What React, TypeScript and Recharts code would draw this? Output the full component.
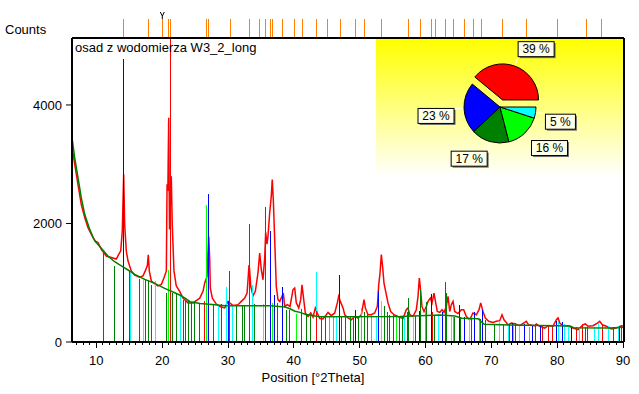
import React from 'react';
import { ComposedChart, Line, Scatter, ErrorBar, XAxis, YAxis, PieChart, Pie, Cell } from 'recharts';

const FONT = '"Liberation Sans", Arial, Helvetica, sans-serif';

const X_MIN = 6.3;
const X_MAX = 90.15;
const Y_MAX = 5130;

// measured scan [°2Theta, counts]
const measured: [number, number][] = [
  [6.3, 3300], [6.71, 3000], [7.21, 2660], [7.71, 2320], [8.23, 2100], [8.73, 1930], [9.49, 1760], [9.87, 1700],
  [10.25, 1680], [10.75, 1565], [11.51, 1450], [12.27, 1425], [13.03, 1400], [13.36, 1470], [13.7, 1540], [13.94, 1870],
  [14.15, 2830], [14.3, 1985], [14.55, 1535], [14.81, 1365], [15.31, 1200], [15.82, 1130], [16.58, 1095], [17.09, 1115],
  [17.43, 1200], [17.74, 1285], [17.89, 1470], [18.04, 1200], [18.35, 1030], [18.86, 985], [19.36, 945], [19.87, 970],
  [20.28, 1085], [20.63, 1200], [20.74, 2660], [20.86, 2550], [20.99, 3785], [21.11, 1900], [21.38, 2795], [21.53, 1985],
  [21.79, 1200], [22.14, 945], [22.66, 855], [23.16, 740], [23.92, 660], [24.68, 660], [25.18, 700], [25.7, 740],
  [26.2, 855], [26.46, 995], [26.81, 1105], [27.07, 1780], [27.22, 1390], [27.31, 910], [27.62, 740], [28.22, 640],
  [28.74, 600], [29.5, 575], [30.0, 685], [30.26, 660], [30.76, 615], [31.52, 630], [32.02, 685], [32.54, 740],
  [32.89, 825], [33.04, 1050], [33.19, 1300], [33.29, 1200], [33.45, 940], [33.8, 780], [34.15, 855], [34.55, 1165],
  [34.81, 1500], [35.06, 1220], [35.31, 1050], [35.57, 1420], [35.72, 1850], [35.92, 1650], [36.07, 1780], [36.33, 2180],
  [36.57, 2460], [36.72, 2740], [36.88, 2400], [37.09, 1730], [37.33, 940], [37.59, 715], [37.85, 685], [38.2, 770],
  [38.4, 825], [38.61, 600], [39.01, 630], [39.42, 600], [39.87, 885], [40.13, 910], [40.37, 660], [40.74, 575],
  [41.04, 715], [41.24, 965], [41.44, 770], [41.74, 490], [42.15, 430], [42.56, 490], [42.91, 420], [43.26, 575],
  [43.56, 490], [43.93, 395], [44.43, 390], [44.93, 460], [45.19, 500], [45.69, 445], [46.21, 490], [46.6, 660],
  [46.81, 770], [47.06, 685], [47.47, 575], [47.73, 460], [48.23, 405], [48.73, 375], [49.24, 430], [49.75, 405],
  [50.25, 460], [50.66, 715], [50.86, 575], [51.26, 460], [51.77, 460], [52.28, 490], [52.68, 600], [52.89, 965],
  [53.09, 1165], [53.29, 1475], [53.5, 1250], [53.69, 995], [54.0, 825], [54.3, 660], [54.71, 515], [55.21, 460],
  [55.82, 430], [56.58, 395], [57.08, 545], [57.34, 575], [57.6, 460], [58.1, 430], [58.6, 545], [58.86, 770],
  [59.06, 1080], [59.27, 855], [59.46, 600], [59.77, 515], [60.12, 600], [60.38, 685], [60.73, 740], [60.99, 660],
  [61.29, 825], [61.55, 660], [61.79, 515], [62.16, 500], [62.51, 545], [62.81, 500], [63.16, 600], [63.42, 770],
  [63.68, 515], [63.92, 630], [64.18, 685], [64.43, 515], [64.94, 480], [65.44, 545], [65.8, 545], [66.2, 430],
  [66.71, 375], [67.21, 490], [67.72, 460], [68.13, 545], [68.38, 660], [68.73, 515], [69.08, 405], [69.6, 350],
  [70.25, 330], [70.75, 350], [71.27, 360], [71.62, 460], [71.92, 375], [72.27, 330], [72.53, 290], [73.03, 320],
  [73.55, 310], [74.31, 275], [75.07, 330], [75.31, 350], [75.67, 290], [76.59, 275], [76.83, 305], [77.35, 265],
  [78.11, 235], [78.61, 275], [79.37, 265], [79.87, 375], [80.13, 405], [80.39, 320], [80.89, 275], [81.65, 275],
  [82.41, 235], [83.17, 210], [83.92, 290], [84.27, 305], [84.68, 265], [85.44, 275], [86.1, 320], [86.46, 350],
  [86.86, 290], [87.46, 265], [88.22, 220], [88.98, 235], [89.74, 275], [90.15, 265],
];

// fitted background
const background: [number, number][] = [
  [6.3, 3448], [6.71, 3110], [7.21, 2773], [7.71, 2435], [8.23, 2154], [8.99, 1900], [9.75, 1705], [10.75, 1580],
  [11.76, 1451], [12.78, 1355], [13.79, 1283], [14.81, 1215], [15.82, 1141], [17.34, 1057], [18.86, 989], [20.38, 905],
  [21.9, 832], [22.66, 793], [23.47, 740], [24.23, 680], [25.75, 650], [28.03, 630], [29.54, 613], [36.38, 613],
  [38.66, 590], [39.42, 560], [40.17, 520], [40.94, 500], [41.7, 470], [43.22, 440], [43.98, 425], [56.12, 430],
  [59.17, 445], [62.2, 456], [64.48, 440], [65.5, 400], [68.0, 393], [68.9, 300], [72.84, 285], [81.95, 270],
  [82.5, 240], [88.0, 236], [90.15, 250],
];

// reference patterns [°2Theta, height]
const sticksRed: [number, number][] = [
  [17.54, 1050], [21.23, 5130], [23.51, 715], [26.43, 700], [33.23, 1990], [37.44, 650], [41.13, 550], [43.37, 520],
  [54.15, 500], [61.03, 500], [73.64, 320], [76.68, 300], [77.7, 280], [78.61, 275], [79.26, 275], [82.91, 250],
  [83.92, 300], [84.68, 260], [86.81, 290], [88.48, 250], [89.74, 270],
];
const sticksBlue: [number, number][] = [
  [14.12, 4770], [27.11, 2500], [30.04, 685], [36.42, 1880], [37.03, 800], [38.25, 930], [46.89, 1135], [49.34, 545],
  [52.91, 855], [59.16, 530], [60.86, 815], [62.51, 500], [65.09, 630], [65.95, 430], [67.47, 500], [68.63, 545],
  [73.14, 320], [75.07, 305], [76.18, 280], [77.44, 280], [79.87, 350], [80.78, 330], [82.15, 260], [89.5, 270],
];
const sticksDarkGreen: [number, number][] = [
  [11.05, 1500], [12.73, 1280], [14.05, 1300], [15.0, 1200], [16.55, 1070], [17.95, 1040], [18.41, 970], [20.69, 830],
  [21.54, 830], [22.2, 830], [22.71, 800], [23.21, 715], [23.97, 700], [24.48, 680], [24.98, 650], [25.74, 640],
  [27.8, 640], [29.04, 640], [30.2, 1205], [31.26, 615], [32.17, 620], [32.43, 620], [33.99, 645], [35.66, 2270],
  [38.91, 545], [39.34, 545], [41.19, 490], [41.89, 460], [42.56, 460], [43.44, 685], [44.17, 430], [44.78, 430],
  [47.24, 440], [47.82, 440], [48.53, 430], [48.99, 430], [49.75, 440], [50.76, 500], [51.26, 480], [53.77, 600],
  [54.56, 460], [55.11, 460], [56.08, 430], [56.43, 430], [57.23, 500], [57.45, 750], [58.51, 440], [59.27, 900],
  [60.18, 680], [61.4, 450], [63.04, 1005], [63.26, 830], [64.43, 420], [65.24, 430], [67.06, 400], [68.38, 380],
  [69.08, 370], [70.51, 300], [71.92, 290], [72.79, 290], [84.33, 260],
];
const sticksGreen: [number, number][] = [
  [20.93, 1220], [26.66, 2315], [36.73, 650], [40.43, 470], [45.45, 440], [45.95, 440], [50.35, 570], [51.87, 450],
  [55.56, 440], [60.03, 560], [64.18, 420], [68.13, 400], [75.83, 260],
];
const sticksCyan: [number, number][] = [
  [15.22, 1170], [17.16, 1040], [18.91, 1025], [22.81, 770], [28.52, 620], [29.8, 920], [30.68, 615], [33.67, 965],
  [35.36, 640], [43.4, 1175], [46.45, 420], [52.56, 440], [53.32, 685], [56.84, 430], [58.25, 440], [61.9, 450],
  [63.92, 450], [66.61, 400], [71.27, 350], [72.53, 290], [73.4, 310], [74.31, 275], [80.23, 330], [81.04, 300],
  [81.75, 275], [83.42, 250], [85.7, 250], [86.31, 320], [87.72, 270], [89.24, 275],
];

// peak list marks above the plot
const refMarks = [
  14.15, 17.89, 20.02, 20.99, 21.29, 26.76, 27.11, 30.41, 33.29, 34.75, 35.72, 36.48, 36.79, 38.31, 40.07, 41.28,
  43.37, 45.08, 47.12, 49.34, 50.7, 53.28, 57.39, 59.21, 60.88, 61.49, 63.01, 64.22, 65.89, 67.26, 68.47, 71.67,
  75.37, 80.02, 84.42, 86.7,
];
const cursorMark = 20.02;

const xLabels = [10, 20, 30, 40, 50, 60, 70, 80, 90];
const yLabels = [0, 2000, 4000];

// phase quantification (pie)
const phaseShares = [39, 23, 17, 16, 5];
const phaseColors = ['#ff0000', '#0000ff', '#008000', '#00ff00', '#00ffff'];

const minorTicks = Array.from({ length: 84 }, (_, i) => i + 7);

const profileData = measured.map(([x, c]) => ({ x, c }));
const bgData = background.map(([x, b]) => ({ x, b }));
const toSticks = (pts: [number, number][]) => pts.map(([x, h]) => ({ x, h, span: [h, 0] }));

const stickSeries = [
  { key: 'dkgreen', color: '#008000', pts: sticksDarkGreen },
  { key: 'cyan', color: '#00ffff', pts: sticksCyan },
  { key: 'green', color: '#00ff00', pts: sticksGreen },
  { key: 'blue', color: '#0000ff', pts: sticksBlue },
  { key: 'red', color: '#ff0000', pts: sticksRed },
];

const BottomTick = (props: any) => {
  const { x, y, payload } = props;
  const major = xLabels.includes(payload.value);
  return (
    <g>
      <line x1={x} x2={x} y1={y} y2={y + (major ? 6 : 3)} stroke="#000" strokeWidth={1} shapeRendering="crispEdges" />
      {major && (
        <text x={x} y={y + 23} textAnchor="middle" fontSize={13} fontFamily={FONT} fill="#000">
          {payload.value}
        </text>
      )}
    </g>
  );
};

const RefTick = (props: any) => {
  const { x, y, payload } = props;
  return (
    <g>
      <line x1={x} x2={x} y1={y - 1} y2={y - 19} stroke="#ff8000" strokeWidth={1} shapeRendering="crispEdges" />
      {payload.value === cursorMark && (
        <path
          d={`M${x - 2},${y - 26} L${x},${y - 22} L${x + 2},${y - 26} M${x},${y - 22} V${y - 19}`}
          stroke="#000"
          fill="none"
        />
      )}
    </g>
  );
};

const noMarker = () => <g />;

// pie inset
const RAD = Math.PI / 180;
const EXPLODE = 7.5;
const PIE_CX = 124;
const PIE_CY = 68;
const PIE_R = 36;
const pieData = phaseShares.map((share, i) => ({ name: `phase${i + 1}`, share, color: phaseColors[i] }));
const shareTotal = phaseShares.reduce((a, b) => a + b, 0);
const explodedMid = (phaseShares[0] / shareTotal) * 180;
const exDx = EXPLODE * Math.cos(explodedMid * RAD);
const exDy = -EXPLODE * Math.sin(explodedMid * RAD);

const renderPieLabel = (p: any) => {
  const { cx, cy, midAngle, outerRadius, index, value } = p;
  const c = Math.cos(midAngle * RAD);
  const s = Math.sin(midAngle * RAD);
  const ox = cx + (index === 0 ? exDx : 0);
  const oy = cy + (index === 0 ? exDy : 0);
  const ax = ox + (outerRadius + 10) * c;
  const ay = oy - (outerRadius + 10) * s;
  const text = `${value} %`;
  const w = text.length * 6 + 12;
  const h = 15;
  const bx = c >= 0 ? ax : ax - w;
  const by = s > 0 ? ay - h : ay;
  return (
    <g>
      <line
        x1={ox + (outerRadius + 1) * c}
        y1={oy - (outerRadius + 1) * s}
        x2={ax}
        y2={ay}
        stroke="#ffffff"
        strokeWidth={1}
      />
      <rect x={bx + 1.5} y={by + 1.5} width={w} height={h} fill="#707070" />
      <rect x={bx} y={by} width={w} height={h} fill="#ffffe6" stroke="#000" strokeWidth={1} />
      <text x={bx + w / 2} y={by + 11.5} textAnchor="middle" fontSize={12} fontFamily={FONT} fill="#000">
        {text}
      </text>
    </g>
  );
};

export default function App() {
  return (
    <div style={{ position: 'fixed', left: 0, top: 0, width: 639, height: 394, background: '#fff', fontFamily: FONT }}>
      <ComposedChart width={639} height={394} margin={{ top: 37, right: 14, bottom: 22, left: 22 }}>
        <XAxis
          dataKey="x"
          type="number"
          domain={[X_MIN, X_MAX]}
          allowDataOverflow
          ticks={minorTicks}
          interval={0}
          height={30}
          tickSize={0}
          tickMargin={0}
          tickLine={false}
          tick={BottomTick}
          axisLine={{ stroke: '#000', strokeWidth: 2 }}
        />
        <XAxis
          xAxisId="ref"
          dataKey="x"
          orientation="top"
          type="number"
          domain={[X_MIN, X_MAX]}
          allowDataOverflow
          ticks={refMarks}
          interval={0}
          height={1}
          tickSize={0}
          tickMargin={0}
          tickLine={false}
          tick={RefTick}
          axisLine={{ stroke: '#000', strokeWidth: 2 }}
        />
        <YAxis
          type="number"
          domain={[0, Y_MAX]}
          allowDataOverflow
          ticks={yLabels}
          interval={0}
          width={50}
          tickSize={6}
          tickMargin={4}
          tick={{ fontSize: 13, fill: '#000', fontFamily: FONT }}
          tickLine={{ stroke: '#000' }}
          axisLine={{ stroke: '#000', strokeWidth: 2 }}
        />
        <YAxis
          yAxisId="frame"
          orientation="right"
          type="number"
          domain={[0, Y_MAX]}
          allowDataOverflow
          width={1}
          tick={false}
          tickLine={false}
          axisLine={{ stroke: '#000', strokeWidth: 2 }}
        />
        <Line
          data={profileData}
          dataKey="c"
          type="linear"
          stroke="#ff0000"
          strokeWidth={1.5}
          dot={false}
          activeDot={false}
          isAnimationActive={false}
        />
        {stickSeries.map((s) => (
          <Scatter key={s.key} data={toSticks(s.pts)} dataKey="h" shape={noMarker} isAnimationActive={false}>
            <ErrorBar
              dataKey="span"
              direction="y"
              width={0}
              stroke={s.color}
              strokeWidth={1}
              shapeRendering="crispEdges"
              isAnimationActive={false}
            />
          </Scatter>
        ))}
        <Line
          data={bgData}
          dataKey="b"
          xAxisId="ref"
          yAxisId="frame"
          type="linear"
          stroke="#008000"
          strokeWidth={1.5}
          dot={false}
          activeDot={false}
          isAnimationActive={false}
        />
      </ComposedChart>

      <div style={{ position: 'absolute', left: 5, top: 22, fontSize: 13, lineHeight: '15px', color: '#000' }}>Counts</div>
      <div style={{ position: 'absolute', left: 75, top: 40, fontSize: 13, lineHeight: '15px', color: '#000' }}>
        osad z wodomierza W3_2_long
      </div>
      <div
        style={{ position: 'absolute', left: 213, top: 370, width: 200, textAlign: 'center', fontSize: 13, lineHeight: '15px', color: '#000' }}
      >
        Position [°2Theta]
      </div>

      <div
        style={{
          position: 'absolute',
          left: 376,
          top: 39,
          width: 247,
          height: 137,
          background: 'linear-gradient(#ffff00, #ffffff)',
        }}
      >
        <PieChart width={247} height={137} margin={{ top: 0, right: 0, bottom: 0, left: 0 }}>
          <Pie
            data={pieData}
            dataKey="share"
            nameKey="name"
            cx={PIE_CX}
            cy={PIE_CY}
            outerRadius={PIE_R}
            startAngle={0}
            endAngle={360}
            label={renderPieLabel}
            labelLine={false}
            isAnimationActive={false}
          >
            {pieData.map((d, i) => (
              <Cell key={d.name} fill={i === 0 ? 'none' : d.color} stroke={i === 0 ? 'none' : '#000'} strokeWidth={1} />
            ))}
          </Pie>
          <Pie
            data={pieData}
            dataKey="share"
            nameKey="name"
            cx={PIE_CX + exDx}
            cy={PIE_CY + exDy}
            outerRadius={PIE_R}
            startAngle={0}
            endAngle={360}
            label={false}
            labelLine={false}
            isAnimationActive={false}
          >
            {pieData.map((d, i) => (
              <Cell key={d.name} fill={i === 0 ? d.color : 'none'} stroke={i === 0 ? '#000' : 'none'} strokeWidth={1} />
            ))}
          </Pie>
        </PieChart>
      </div>
    </div>
  );
}
